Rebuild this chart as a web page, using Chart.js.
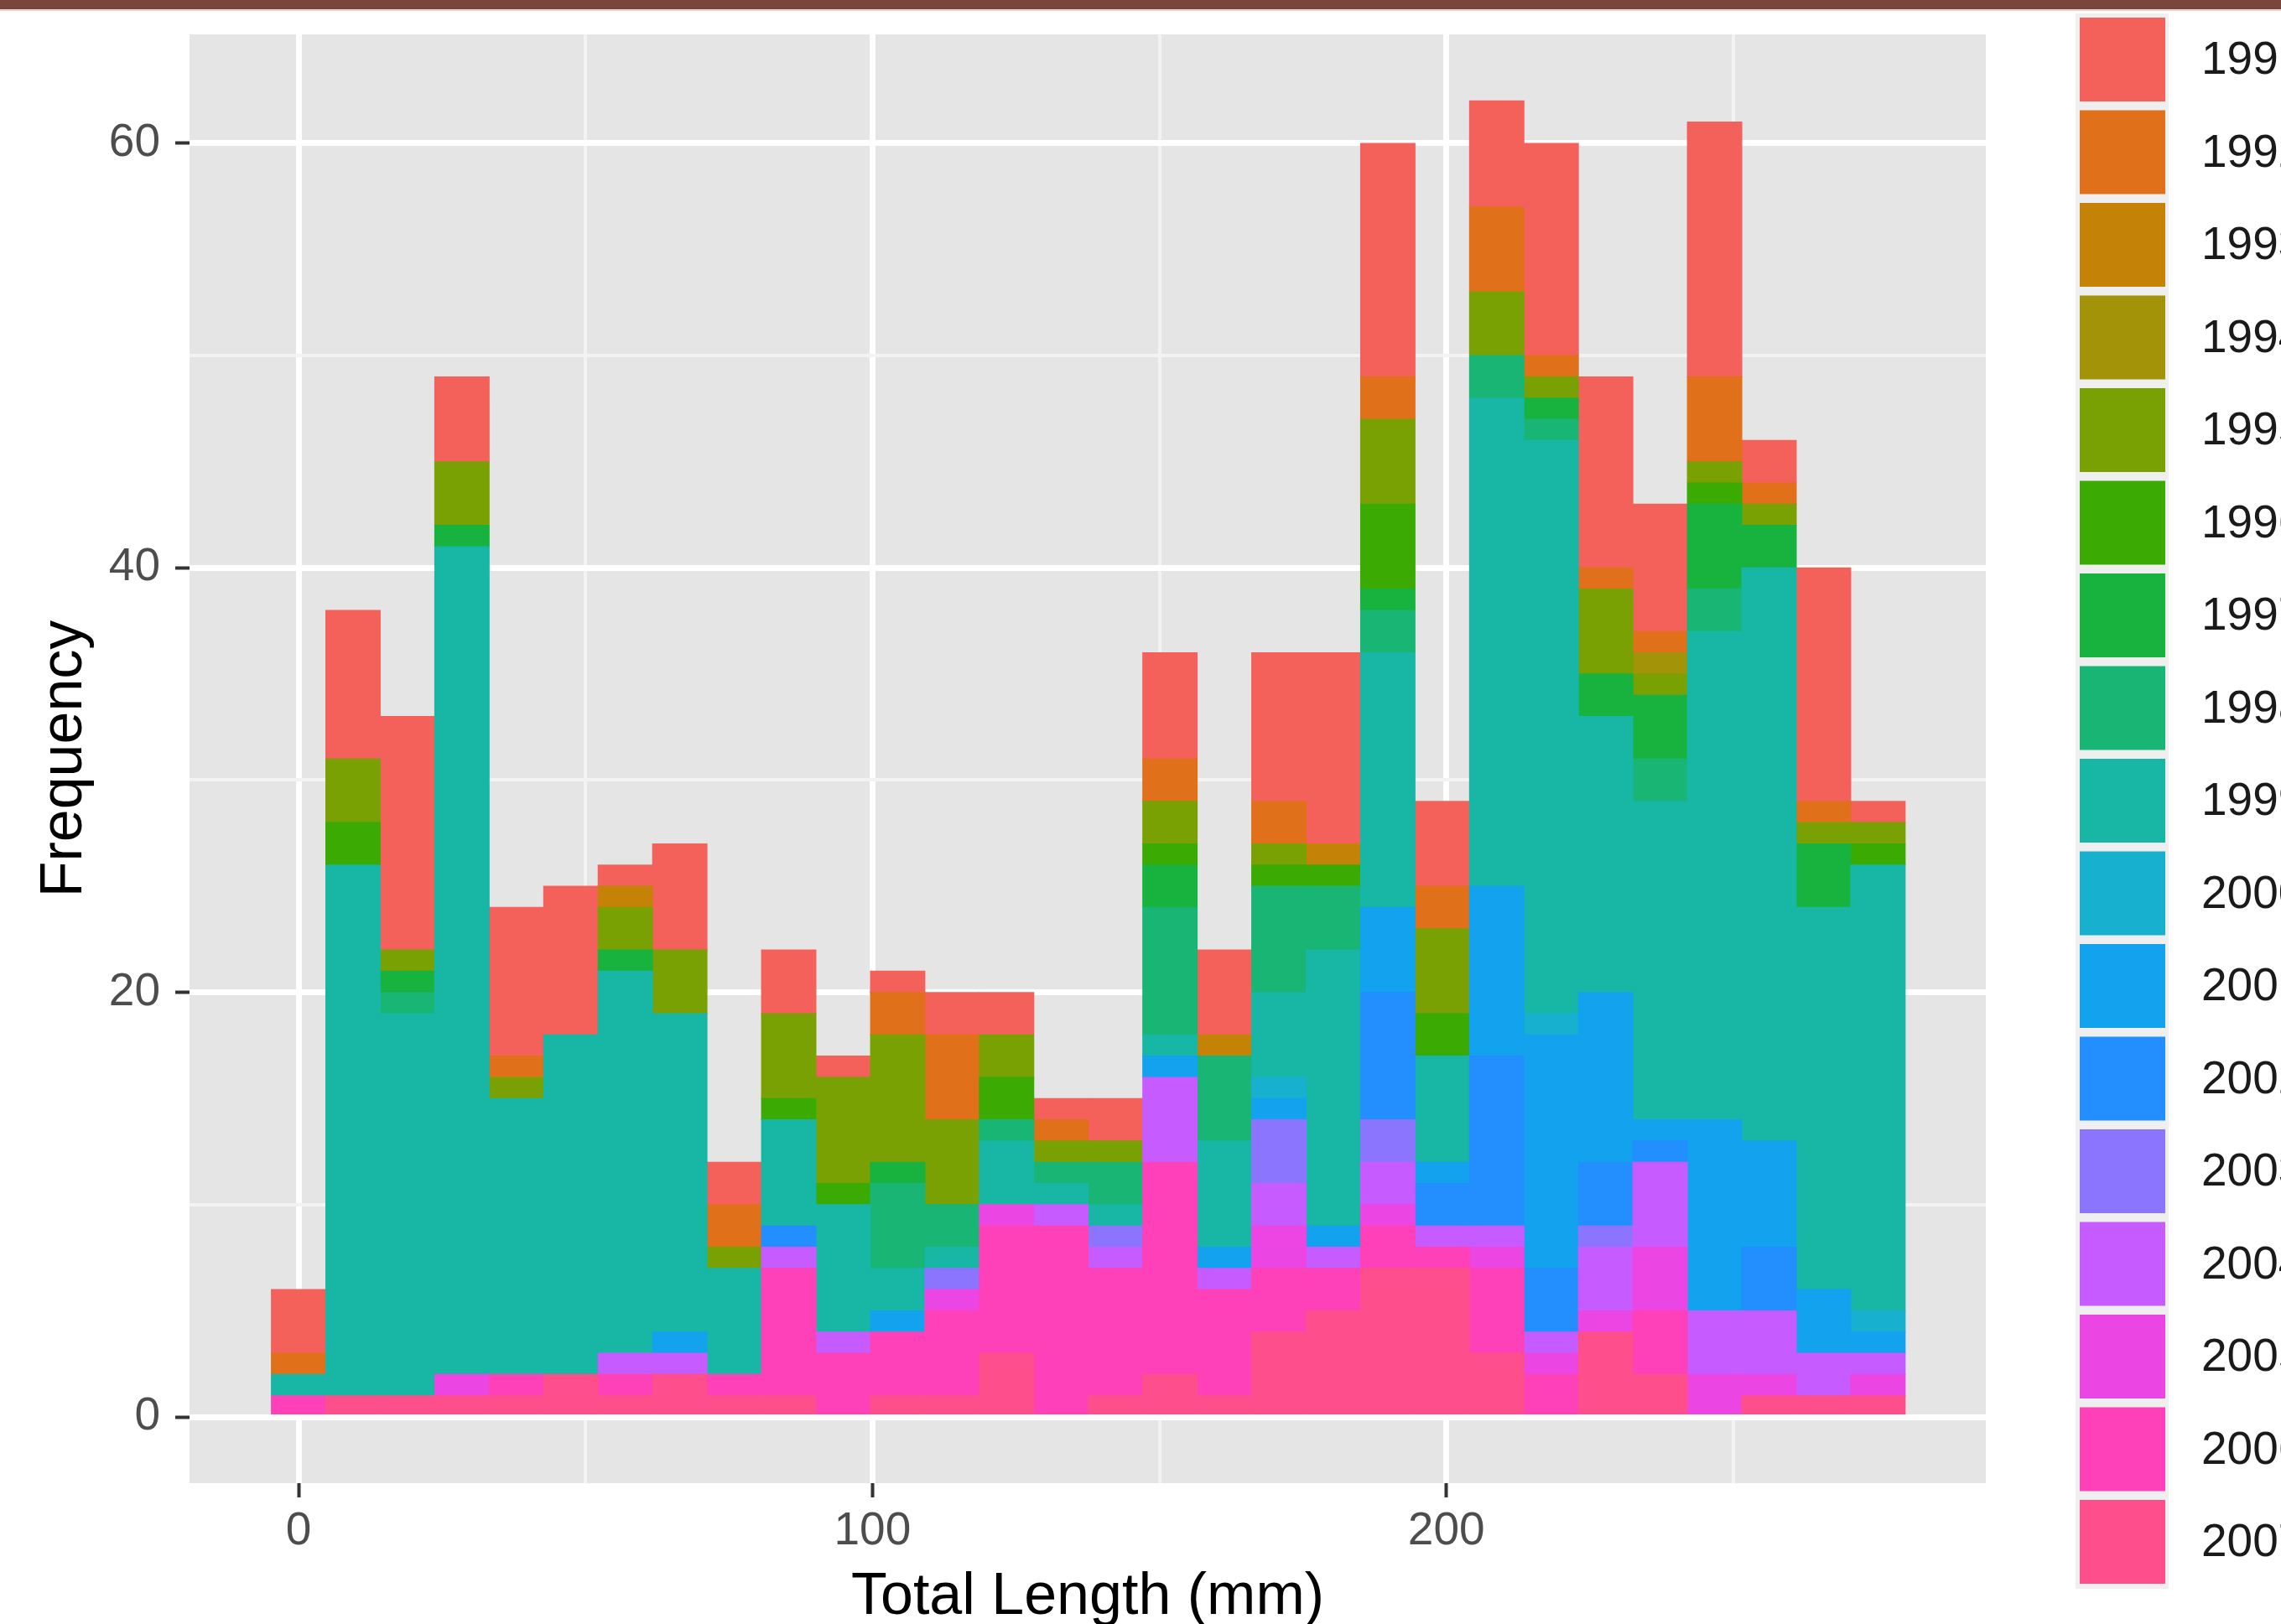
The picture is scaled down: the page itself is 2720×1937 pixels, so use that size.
<!DOCTYPE html>
<html><head><meta charset="utf-8">
<script src="https://cdn.jsdelivr.net/npm/chart.js@4.4.1/dist/chart.umd.min.js"></script>
<style>
html,body{margin:0;padding:0;background:#fff;overflow:hidden}
#wrap{position:relative;width:2720px;height:1937px;overflow:hidden}
#topbar{position:absolute;left:0;top:0;width:2720px;height:11px;background:#7A453D;border-bottom:2px solid #EBD2CB;z-index:2}
canvas{position:absolute;left:0;top:0}
</style></head><body>
<div id="wrap"><canvas id="c" width="2720" height="1937"></canvas><div id="topbar"></div></div>
<script>
// ---- data ----
const binCenters = [0, 9.49, 18.98, 28.47, 37.96, 47.45, 56.94, 66.43, 75.92, 85.41, 94.9, 104.39, 113.88, 123.37, 132.86, 142.35, 151.84, 161.33, 170.82, 180.31, 189.8, 199.29, 208.78, 218.27, 227.76, 237.25, 246.74, 256.23, 265.72, 275.21];
const years = ['1991','1992','1993','1994','1995','1996','1997','1998','1999','2000','2001','2002','2003','2004','2005','2006','2007'];
const colors = ['#F4615B','#E07019','#C48306','#A29308','#7AA104','#3BAA03','#17B33E','#18B575','#17B6A5','#17B0CE','#13A3EE','#238FFF','#8B75FF','#C65BFF','#EB45E4','#FE41B9','#FE4E8B'];
const y1991 = [3,7,11,4,7,7,1,5,2,3,1,1,2,2,1,2,5,4,7,9,11,4,5,10,9,6,12,2,11,1];
const y1992 = [1,0,0,0,1,0,0,0,2,0,0,2,4,0,1,0,2,0,2,0,2,2,4,1,1,1,4,1,1,0];
const y1993 = [0,0,0,0,0,0,1,0,0,0,0,0,0,0,0,0,0,1,0,1,0,0,0,0,0,0,0,0,0,0];
const y1994 = [0,0,0,0,0,0,0,0,0,0,0,0,0,0,0,0,0,0,0,0,0,0,0,0,0,1,0,0,0,0];
const y1995 = [0,3,1,3,1,0,2,3,1,4,5,6,4,2,1,1,2,0,1,0,4,4,3,1,4,1,1,1,1,1];
const y1996 = [0,2,0,0,0,0,0,0,0,1,1,0,0,2,0,0,1,0,1,1,4,2,0,0,0,0,1,0,0,1];
const y1997 = [0,0,1,1,0,0,1,0,0,0,0,1,0,0,0,0,2,0,0,0,1,0,0,1,2,3,4,2,3,0];
const y1998 = [0,0,1,0,0,0,0,0,0,0,0,4,2,1,1,2,6,4,5,3,2,0,2,1,0,2,2,0,0,0];
const y1999 = [1,25,18,39,13,16,18,15,5,5,6,2,1,3,1,1,1,5,4,13,12,5,23,27,13,15,23,27,18,21];
const y2000 = [0,0,0,0,0,0,0,0,0,0,0,0,0,0,0,0,0,0,1,0,0,0,0,1,0,0,0,0,0,1];
const y2001 = [0,0,0,0,0,0,0,1,0,0,0,1,0,0,0,0,1,1,1,1,4,1,8,11,8,1,9,5,3,1];
const y2002 = [0,0,0,0,0,0,0,0,0,1,0,0,0,0,0,0,0,0,0,0,6,2,8,3,3,1,0,3,0,0];
const y2003 = [0,0,0,0,0,0,0,0,0,0,0,0,1,0,0,1,0,0,3,0,2,0,0,0,1,0,0,0,0,0];
const y2004 = [0,0,0,0,0,0,1,1,0,1,1,0,0,0,1,1,4,1,2,1,2,1,1,1,3,4,3,3,2,1];
const y2005 = [0,0,0,1,0,0,0,0,0,0,0,0,1,1,0,0,0,0,2,0,1,0,1,1,1,3,2,1,0,1];
const y2006 = [1,0,0,0,1,0,1,0,1,6,3,3,4,6,9,6,10,5,3,2,2,1,4,2,0,3,0,0,0,0];
const y2007 = [0,1,1,1,1,2,1,2,1,1,0,1,1,3,0,1,2,1,4,5,7,7,3,0,4,2,0,1,1,1];
const xTicks = [0, 50, 100, 150, 200, 250];
const xLabels = [0, 100, 200];
const yTicks = [0, 10, 20, 30, 40, 50, 60];
const yLabels = [0, 20, 40, 60];

const counts = [y1991,y1992,y1993,y1994,y1995,y1996,y1997,y1998,y1999,y2000,y2001,y2002,y2003,y2004,y2005,y2006,y2007];
const FONT = '"Liberation Sans", Arial, Helvetica, sans-serif';
Chart.defaults.font.family = FONT;

const datasets = years.map((yr, k) => ({
  label: yr,
  data: binCenters.map((c, i) => ({x: c, y: counts[k][i] ? counts[k][i] : null})),
  backgroundColor: colors[k],
  borderWidth: 0,
  barPercentage: 1,
  categoryPercentage: 1,
  inflateAmount: 0.5
})).reverse(); // last year at the bottom of each stack

const panelBg = {
  id: 'panelBg',
  beforeDraw(chart) {
    const {ctx, chartArea: a} = chart;
    ctx.save(); ctx.fillStyle = '#E5E5E5';
    ctx.fillRect(a.left, a.top, a.right - a.left, a.bottom - a.top);
    ctx.restore();
  }
};
const ggLegend = {
  id: 'ggLegend',
  afterDraw(chart) {
    const ctx = chart.ctx;
    const ds = chart.data.datasets.slice().reverse();
    ctx.save();
    ctx.fillStyle = '#EFEFEF';
    ctx.fillRect(2475, 16, 111, 1879);
    ctx.font = '55px ' + FONT;
    ctx.textBaseline = 'middle';
    ctx.textAlign = 'left';
    ds.forEach((d, k) => {
      const top = 21 + k * 110.5;
      ctx.fillStyle = d.backgroundColor;
      ctx.fillRect(2480, top, 102, 100);
      ctx.fillStyle = '#1A1A1A';
      ctx.fillText(d.label, 2625, top + 52);
    });
    ctx.restore();
  }
};

function gridOpts(majors) {
  return {
    offset: false,
    drawTicks: true,
    tickLength: 17,
    color: c => (c.tick && majors.includes(c.tick.value)) ? '#FFFFFF' : '#F3F3F3',
    lineWidth: c => (c.tick && majors.includes(c.tick.value)) ? 7 : 4,
    tickColor: c => (c.tick && majors.includes(c.tick.value)) ? '#333333' : 'rgba(0,0,0,0)',
    tickWidth: 4
  };
}

new Chart(document.getElementById('c'), {
  type: 'bar',
  data: {datasets},
  plugins: [panelBg, ggLegend],
  options: {
    responsive: false,
    animation: false,
    devicePixelRatio: 1,
    layout: {padding: {left: 0, top: 41, right: 352, bottom: 0}},
    plugins: {legend: {display: false}, tooltip: {enabled: false}},
    scales: {
      x: {
        type: 'linear', stacked: true, offset: false,
        min: -19.0, max: 294.0,
        afterBuildTicks: s => { s.ticks = xTicks.map(v => ({value: v})); },
        afterFit: s => { s.height = 168; s.paddingLeft = 0; s.paddingRight = 0; },
        grid: gridOpts(xLabels),
        border: {display: false},
        ticks: {
          autoSkip: false, maxRotation: 0, padding: 8,
          color: '#4D4D4D', font: {size: 55},
          callback: v => xLabels.includes(v) ? String(v) : ''
        },
        title: {display: true, text: 'Total Length (mm)', color: '#000000', font: {size: 70, lineHeight: 0.9}, padding: {top: 0, bottom: 0}}
      },
      y: {
        type: 'linear', stacked: true,
        min: -3.12, max: 65.13,
        afterBuildTicks: s => { s.ticks = yTicks.map(v => ({value: v})); },
        afterFit: s => { s.width = 226; s.paddingTop = 0; s.paddingBottom = 0; },
        grid: gridOpts(yLabels),
        border: {display: false},
        ticks: {
          autoSkip: false, padding: 18,
          color: '#4D4D4D', font: {size: 55},
          callback: v => yLabels.includes(v) ? String(v) : ''
        },
        title: {display: true, text: 'Frequency', color: '#000000', font: {size: 70}, padding: {top: 36, bottom: 0}}
      }
    }
  }
});
</script>
</body></html>
